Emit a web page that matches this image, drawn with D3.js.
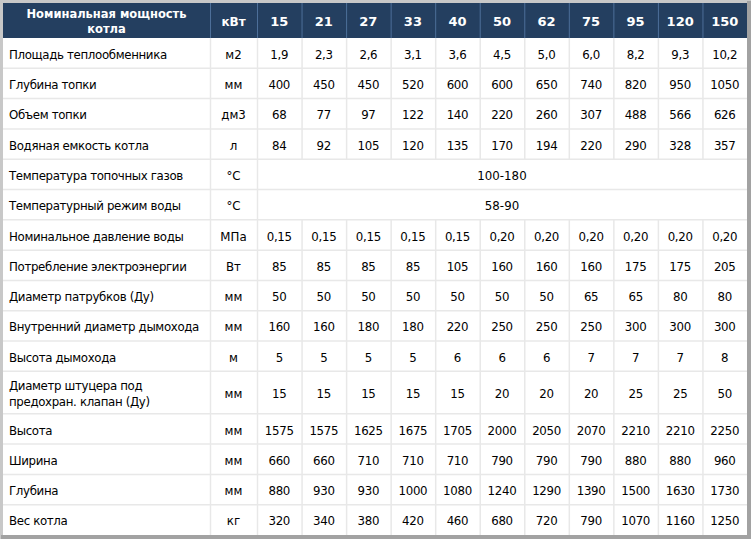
<!DOCTYPE html>
<html><head><meta charset="utf-8">
<script src="https://cdn.jsdelivr.net/npm/d3@7"></script>
<style>
html,body{margin:0;padding:0;background:#fff;}
svg{display:block;}
text{font-family:"DejaVu Sans",Verdana,sans-serif;}
</style></head>
<body>
<svg id="c" width="751" height="539"></svg>
<script>
const headerTitle = ["Номинальная мощность", "котла"];
const headerUnit = "кВт";
const powers = ["15","21","27","33","40","50","62","75","95","120","150"];

const labels = [
  ["Площадь теплообменника"],
  ["Глубина топки"],
  ["Объем топки"],
  ["Водяная емкость котла"],
  ["Температура топочных газов"],
  ["Температурный режим воды"],
  ["Номинальное давление воды"],
  ["Потребление электроэнергии"],
  ["Диаметр патрубков (Ду)"],
  ["Внутренний диаметр дымохода"],
  ["Высота дымохода"],
  ["Диаметр штуцера под", "предохран. клапан (Ду)"],
  ["Высота"],
  ["Ширина"],
  ["Глубина"],
  ["Вес котла"]
];
const units = ["м2","мм","дм3","л","°C","°C","МПа","Вт","мм","мм","м","мм","мм","мм","мм","кг"];
const values = [
  ["1,9","2,3","2,6","3,1","3,6","4,5","5,0","6,0","8,2","9,3","10,2"],
  ["400","450","450","520","600","600","650","740","820","950","1050"],
  ["68","77","97","122","140","220","260","307","488","566","626"],
  ["84","92","105","120","135","170","194","220","290","328","357"],
  ["100-180"],
  ["58-90"],
  ["0,15","0,15","0,15","0,15","0,15","0,20","0,20","0,20","0,20","0,20","0,20"],
  ["85","85","85","85","105","160","160","160","175","175","205"],
  ["50","50","50","50","50","50","50","65","65","80","80"],
  ["160","160","180","180","220","250","250","250","300","300","300"],
  ["5","5","5","5","6","6","6","7","7","7","8"],
  ["15","15","15","15","15","20","20","20","25","25","50"],
  ["1575","1575","1625","1675","1705","2000","2050","2070","2210","2210","2250"],
  ["660","660","710","710","710","790","790","790","880","880","960"],
  ["880","930","930","1000","1080","1240","1290","1390","1500","1630","1730"],
  ["320","340","380","420","460","680","720","790","1070","1160","1250"]
];

const W = 751, H = 539;
const L = 3, T = 3, R = 747, B = 535;
const labelRight = 210, unitRight = 257, headerBottom = 38;
const svg = d3.select("#c");

// frame
svg.append("rect").attr("x",0).attr("y",0).attr("width",W).attr("height",H).attr("fill","#c8c8c8");
svg.append("rect").attr("x",R).attr("y",1).attr("width",W-R).attr("height",H-1).attr("fill","#a2a2a2");
svg.append("rect").attr("x",1).attr("y",B).attr("width",W-1).attr("height",H-B).attr("fill","#a2a2a2");
svg.append("rect").attr("x",L).attr("y",T).attr("width",R-L).attr("height",B-T).attr("fill","#ffffff");

// scales
const xv = d3.scaleBand().domain(powers).range([unitRight, R]);
const rowUnits = labels.map(l => l.length > 1 ? 1.4 : 1);
const cum = [0]; rowUnits.forEach((u,i)=>cum.push(cum[i]+u));
const yl = d3.scaleLinear().domain([0, cum[cum.length-1]]).range([headerBottom, B]);
const rows = labels.map((l,i)=>({i, y0: yl(cum[i]), y1: yl(cum[i+1]), label:l, unit:units[i], vals:values[i]}));

// header
svg.append("rect").attr("x",L).attr("y",T).attr("width",R-L).attr("height",headerBottom-T).attr("fill","#243f60");
const hdrLines = [labelRight, unitRight].concat(powers.slice(1).map(p=>xv(p)));
svg.append("g").selectAll("line").data(hdrLines).join("line")
  .attr("x1",d=>d+0.5).attr("x2",d=>d+0.5).attr("y1",T).attr("y2",headerBottom)
  .attr("stroke","#4d6f99").attr("stroke-width",1);

const hc = (T+headerBottom)/2;
svg.append("text").attr("x",(L+labelRight)/2).attr("y",hc-7.5+5)
  .attr("text-anchor","middle").attr("fill","#fff").attr("font-weight","bold").attr("font-size",11.5)
  .selectAll("tspan").data(headerTitle).join("tspan")
  .attr("x",(L+labelRight)/2).attr("dy",(d,i)=>i?15:0).text(d=>d);
svg.append("text").attr("x",(labelRight+unitRight)/2).attr("y",hc+5)
  .attr("text-anchor","middle").attr("fill","#fff").attr("font-weight","bold").attr("font-size",12)
  .text(headerUnit);
svg.append("g").selectAll("text").data(powers).join("text")
  .attr("x",d=>xv(d)+xv.bandwidth()/2).attr("y",hc+5)
  .attr("text-anchor","middle").attr("fill","#fff").attr("font-weight","bold").attr("font-size",13)
  .text(d=>d);

// grid
const grid = svg.append("g").attr("stroke","#e8e8e8").attr("stroke-width",1.5);
rows.forEach(r=>{
  if (r.i>0) grid.append("line").attr("x1",L).attr("x2",R).attr("y1",r.y0).attr("y2",r.y0);
  const xs = [labelRight, unitRight].concat(r.vals.length>1 ? powers.slice(1).map(p=>xv(p)) : []);
  xs.forEach(x=>grid.append("line").attr("x1",x+0.5).attr("x2",x+0.5).attr("y1",r.y0).attr("y2",r.y1));
});

// body text
const fs = 11.8;
const off = 5.6;
const body = svg.append("g").attr("fill","#000").attr("font-size",fs);
rows.forEach(r=>{
  const cy = (r.y0+r.y1)/2;
  const n = r.label.length;
  const t = body.append("text").attr("x",9).attr("y",cy+off-(n-1)*8).attr("letter-spacing",-0.35);
  r.label.forEach((s,k)=>t.append("tspan").attr("x",9).attr("dy",k?16:0).text(s));
  body.append("text").attr("x",(labelRight+unitRight)/2).attr("y",cy+off).attr("text-anchor","middle").text(r.unit);
  if (r.vals.length>1) {
    r.vals.forEach((v,j)=>body.append("text").attr("x",xv(powers[j])+xv.bandwidth()/2).attr("y",cy+off)
      .attr("text-anchor","middle").attr("letter-spacing",-0.3).text(v));
  } else {
    body.append("text").attr("x",(unitRight+R)/2).attr("y",cy+off).attr("text-anchor","middle").text(r.vals[0]);
  }
});
</script>
</body></html>
